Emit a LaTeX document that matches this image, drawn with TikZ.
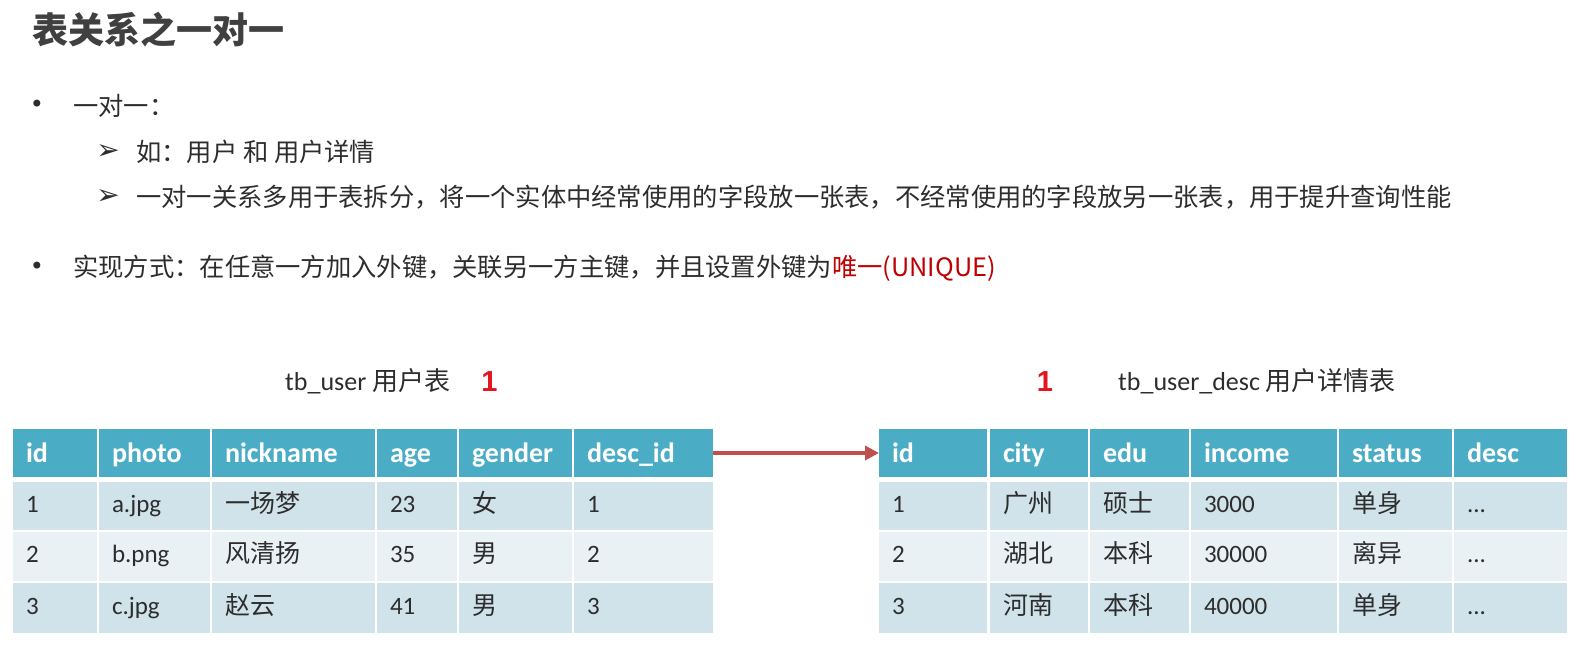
\documentclass[tikz,border=0pt]{standalone}
\usepackage{fontspec}
\setmainfont{Carlito}
\newfontfamily\cjk{Noto Sans CJK SC}
\newfontfamily\dejavu{DejaVu Sans}
\newfontfamily\arial{Liberation Sans}
\usetikzlibrary{arrows.meta}

\definecolor{headblue}{RGB}{75,172,198}
\definecolor{rowdark}{RGB}{208,227,234}
\definecolor{rowlight}{RGB}{233,241,245}
\definecolor{arrowred}{RGB}{192,80,77}
\definecolor{onered}{RGB}{230,20,30}
\definecolor{uniqred}{RGB}{192,0,0}
\definecolor{titlegray}{RGB}{64,64,64}
\definecolor{textgray}{RGB}{45,45,45}

\newcommand\zh[1]{{\cjk #1}}
\newcommand\moredots{...}

\tikzset{
  cellbox/.style={inner xsep=13pt, inner ysep=0pt, outer sep=0pt, anchor=north west, align=left},
  headcell/.style={cellbox, fill=headblue, text=white, minimum height=48pt,
    font=\bfseries\fontsize{28}{30}\selectfont, text height=20pt, text depth=2pt},
  bodycell/.style={cellbox, text=textgray,
    font=\fontsize{25}{27}\selectfont, text height=17pt, text depth=5pt},
  bodytext/.style={inner sep=0pt, anchor=west, text=textgray, font=\cjk\fontsize{25.3}{27}\selectfont},
  bulletmark/.style={inner sep=0pt, text=textgray, font=\dejavu\fontsize{24}{26}\selectfont},
  arrowmark/.style={inner sep=0pt, text=textgray, font=\dejavu\fontsize{28}{30}\selectfont},
  tabletitle/.style={inner sep=0pt, anchor=west, text=textgray, font=\fontsize{26}{28}\selectfont},
  redone/.style={inner sep=0pt, text=onered, font=\arial\bfseries\fontsize{29}{31}\selectfont}
}

\begin{document}
\begin{tikzpicture}[x=1pt,y=-1pt]
\useasboundingbox (0,0) rectangle (1583,649);

% heading and bullet points
\node[inner sep=0pt, anchor=west, text=titlegray, font=\cjk\bfseries\fontsize{36}{38}\selectfont] (title) at (32,30) {表关系之一对一};

\node[bulletmark] (dot1) at (37,106) {•};
\node[bodytext] (line1) at (73,106) {一对一：};
\node[arrowmark] (arr1) at (108,152) {➢};
\node[bodytext] (line2) at (136,152) {如：用户 和 用户详情};
\node[arrowmark] (arr2) at (108,197.5) {➢};
\node[bodytext] (line3) at (136,197.5) {一对一关系多用于表拆分，将一个实体中经常使用的字段放一张表，不经常使用的字段放另一张表，用于提升查询性能};
\node[bulletmark] (dot2) at (37,268) {•};
\node[bodytext] (line4) at (73,268) {实现方式：在任意一方加入外键，关联另一方主键，并且设置外键为\textcolor{uniqred}{唯一(UNIQUE)}};

% table titles
\node[tabletitle] (utitle) at (285,381) {tb\_user \zh{用户表}};
\node[redone] (uone) at (489.5,382) {1};
\node[redone] (done) at (1045,382) {1};
\node[tabletitle] (dtitle) at (1118,381) {tb\_user\_desc \zh{用户详情表}};

% tb_user
\foreach \x/\w/\h/\a/\b/\c [count=\i] in {
  13/84/id/1/2/3,
  99/111/photo/a.jpg/b.png/c.jpg,
  212/163/nickname/\zh{一场梦}/\zh{风清扬}/\zh{赵云},
  377/80/age/23/35/41,
  459/113/gender/\zh{女}/\zh{男}/\zh{男},
  574/139/desc\_id/1/2/3}{
  \pgfmathsetmacro\tw{\w-26}
  \node[headcell, minimum width=\w pt, text width=\tw pt] (u-\i-0) at (\x,429) {\h};
  \node[bodycell, fill=rowdark, minimum width=\w pt, text width=\tw pt, minimum height=48pt] (u-\i-1) at (\x,482) {\a};
  \node[bodycell, fill=rowlight, minimum width=\w pt, text width=\tw pt, minimum height=49pt] (u-\i-2) at (\x,532) {\b};
  \node[bodycell, fill=rowdark, minimum width=\w pt, text width=\tw pt, minimum height=50pt] (u-\i-3) at (\x,583) {\c};
}

% tb_user_desc
\foreach \x/\w/\h/\a/\b/\c [count=\i] in {
  879/108/id/1/2/3,
  990/98/city/\zh{广州}/\zh{湖北}/\zh{河南},
  1090/99/edu/\zh{硕士}/\zh{本科}/\zh{本科},
  1191/146/income/3000/30000/40000,
  1339/113/status/\zh{单身}/\zh{离异}/\zh{单身},
  1454/113/desc/\moredots/\moredots/\moredots}{
  \pgfmathsetmacro\tw{\w-26}
  \node[headcell, minimum width=\w pt, text width=\tw pt] (d-\i-0) at (\x,429) {\h};
  \node[bodycell, fill=rowdark, minimum width=\w pt, text width=\tw pt, minimum height=48pt] (d-\i-1) at (\x,482) {\a};
  \node[bodycell, fill=rowlight, minimum width=\w pt, text width=\tw pt, minimum height=49pt] (d-\i-2) at (\x,532) {\b};
  \node[bodycell, fill=rowdark, minimum width=\w pt, text width=\tw pt, minimum height=50pt] (d-\i-3) at (\x,583) {\c};
}

\draw[arrowred, line width=3.5pt, -{Triangle[length=14pt,width=14pt]}] (u-6-0.east) -- (d-1-0.west);
\end{tikzpicture}
\end{document}
